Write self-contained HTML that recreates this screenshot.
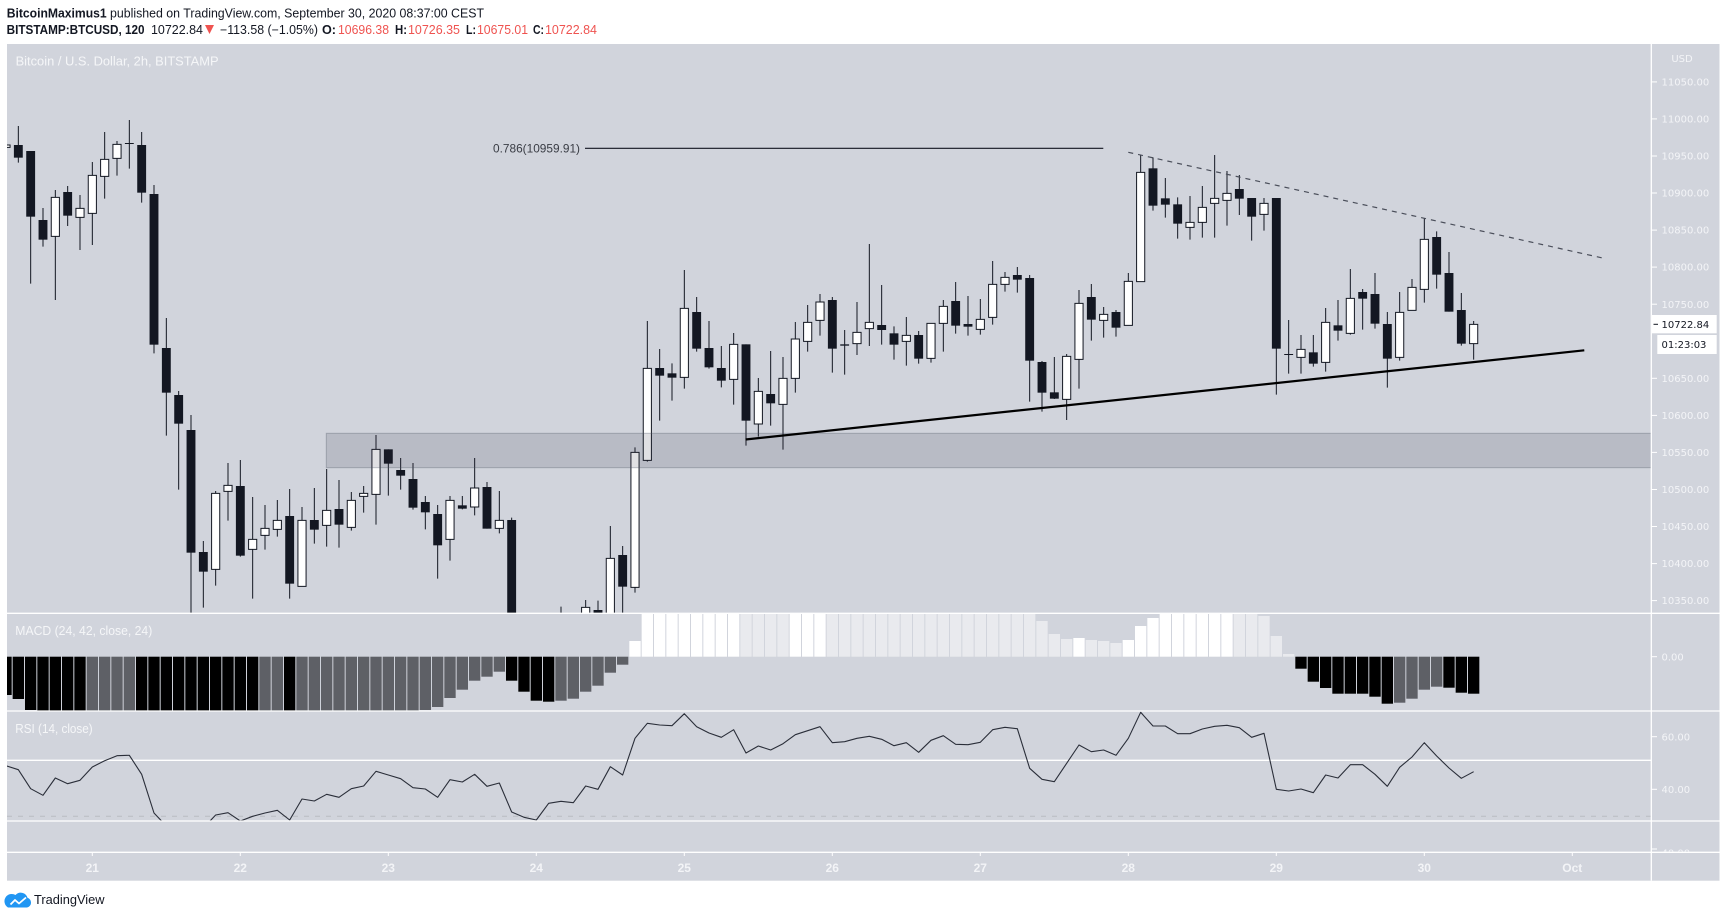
<!DOCTYPE html>
<html><head><meta charset="utf-8"><style>
html,body{margin:0;padding:0;background:#fff;}
svg{display:block;}
.t{font-family:"Liberation Sans",sans-serif;}
.ax{font-family:"DejaVu Sans","Liberation Sans",sans-serif;font-size:10px;fill:#f3f4f7;}
.dt{font-family:"Liberation Sans",sans-serif;font-size:12px;font-weight:bold;fill:#f3f4f7;text-anchor:middle;}
</style></head><body>
<svg width="1724" height="918" viewBox="0 0 1724 918" xmlns="http://www.w3.org/2000/svg">
<defs>
<clipPath id="cMain"><rect x="7" y="44" width="1644.3" height="569.3"/></clipPath>
<clipPath id="cMacd"><rect x="7" y="613.8" width="1644.3" height="97"/></clipPath>
<clipPath id="cRsi"><rect x="7" y="711.5" width="1644.3" height="109.3"/></clipPath>
<clipPath id="cSmall"><rect x="1652" y="821.5" width="70" height="30.5"/></clipPath>
</defs>
<rect x="0" y="0" width="1724" height="918" fill="#fff"/>
<!-- header -->
<text class="t" x="6.7" y="17.5" font-size="12.5" font-weight="bold" fill="#131722" textLength="100" lengthAdjust="spacingAndGlyphs">BitcoinMaximus1</text>
<text class="t" x="110" y="17.5" font-size="12.5" fill="#131722" textLength="374" lengthAdjust="spacingAndGlyphs">published on TradingView.com, September 30, 2020 08:37:00 CEST</text>
<text class="t" x="6.6" y="34" font-size="12.5" font-weight="bold" fill="#131722" textLength="138" lengthAdjust="spacingAndGlyphs">BITSTAMP:BTCUSD, 120</text>
<text class="t" x="151" y="34" font-size="12.5" fill="#131722" textLength="52" lengthAdjust="spacingAndGlyphs">10722.84</text>
<polygon points="205,25 214,25 209.5,34" fill="#ef5350"/>
<text class="t" x="220" y="34" font-size="12.5" fill="#131722" textLength="98" lengthAdjust="spacingAndGlyphs">−113.58 (−1.05%)</text>
<text class="t" x="322" y="34" font-size="12.5" font-weight="bold" fill="#131722" textLength="14" lengthAdjust="spacingAndGlyphs">O:</text>
<text class="t" x="338" y="34" font-size="12.5" fill="#ef5350" textLength="51" lengthAdjust="spacingAndGlyphs">10696.38</text>
<text class="t" x="395" y="34" font-size="12.5" font-weight="bold" fill="#131722" textLength="12" lengthAdjust="spacingAndGlyphs">H:</text>
<text class="t" x="408" y="34" font-size="12.5" fill="#ef5350" textLength="52" lengthAdjust="spacingAndGlyphs">10726.35</text>
<text class="t" x="466" y="34" font-size="12.5" font-weight="bold" fill="#131722" textLength="10" lengthAdjust="spacingAndGlyphs">L:</text>
<text class="t" x="477" y="34" font-size="12.5" fill="#ef5350" textLength="51" lengthAdjust="spacingAndGlyphs">10675.01</text>
<text class="t" x="533" y="34" font-size="12.5" font-weight="bold" fill="#131722" textLength="11" lengthAdjust="spacingAndGlyphs">C:</text>
<text class="t" x="545" y="34" font-size="12.5" fill="#ef5350" textLength="52" lengthAdjust="spacingAndGlyphs">10722.84</text>

<!-- chart background -->
<rect x="7" y="44" width="1712.5" height="836.7" fill="#d1d4dc"/>

<!-- main pane -->
<g clip-path="url(#cMain)">
<g transform="translate(18.333 100) scale(12.3333 0.333333)">
<path fill="none" stroke="#131722" stroke-width="1" vector-effect="non-scaling-stroke" d="M0 78V188M1 153V551M2 324V440M3 270V600M4 258V378M5 285V450M6 186V435M7 96V296M8 123V227M9 60V206M10 96V308M11 255V760M12 654V1007M13 873V1169M14 945V1600M15 1323V1523M16 1173V1457M17 1089V1262M18 1080V1370M19 1191V1496M20 1215V1349M21 1200V1310M22 1167V1496M23 1221V1459M24 1164V1331M25 1107V1340M26 1140V1343M27 1176V1292M28 1158V1238M29 1005V1274M30 1048V1187M31 1074V1169M32 1089V1229M33 1188V1288M34 1215V1436M35 1188V1382M36 1188V1228M37 1074V1246M38 1146V1286M39 1173V1300M40 1253V1650M44 1520V1650M46 1500V1650M47 1502V1650M48 1278V1650M49 1338V1540M50 1042V1478M51 663V1085M52 747V962M53 790V902M54 510V866M55 591V755M56 663V806M57 738V862M58 699V914M59 733V1037M60 834V1010M61 753V977M62 771V1049M63 666V878M64 615V755M65 582V707M66 591V818M67 690V824M68 606V765M69 432V738M70 555V734M71 679V779M72 651V797M73 693V791M74 669V788M75 600V755M76 546V701M77 588V707M78 597V704M79 483V674M80 516V575M81 501V578M82 525V905M83 783V935M84 771V897M85 762V960M86 570V866M87 552V722M88 621V713M89 630V710M90 519V676M91 166V545M92 172V332M93 234V353M94 292V416M95 288V419M96 258V413M97 165V413M98 213V377M99 225V345M100 294V422M101 294V392M102 294V884M103 660V821M104 705V821M105 705V800M106 624V815M107 600V722M108 507V704M109 567V689M110 519V686M111 636V863M112 576V782M113 537V631M114 354V608M115 394V566M116 456V635M117 579V737M118 663V779"/>
<g fill="#131722">
<rect x="-0.36" y="135" width="0.72" height="38"/>
<rect x="0.64" y="153" width="0.72" height="197"/>
<rect x="1.64" y="360" width="0.72" height="59"/>
<rect x="3.64" y="276" width="0.72" height="71"/>
<rect x="8.64" y="129" width="0.72" height="3"/>
<rect x="9.64" y="135" width="0.72" height="143"/>
<rect x="10.64" y="282" width="0.72" height="452"/>
<rect x="11.64" y="744" width="0.72" height="134"/>
<rect x="12.64" y="885" width="0.72" height="86"/>
<rect x="13.64" y="990" width="0.72" height="368"/>
<rect x="14.64" y="1356" width="0.72" height="59"/>
<rect x="17.64" y="1158" width="0.72" height="209"/>
<rect x="21.64" y="1248" width="0.72" height="203"/>
<rect x="23.64" y="1260" width="0.72" height="29"/>
<rect x="25.64" y="1227" width="0.72" height="47"/>
<rect x="29.64" y="1048" width="0.72" height="43"/>
<rect x="30.64" y="1110" width="0.72" height="17"/>
<rect x="31.64" y="1137" width="0.72" height="86"/>
<rect x="32.64" y="1206" width="0.72" height="31"/>
<rect x="33.64" y="1242" width="0.72" height="94"/>
<rect x="35.64" y="1216" width="0.72" height="10"/>
<rect x="37.64" y="1161" width="0.72" height="125"/>
<rect x="39.64" y="1260" width="0.72" height="400"/>
<rect x="46.64" y="1530" width="0.72" height="120"/>
<rect x="48.64" y="1365" width="0.72" height="95"/>
<rect x="51.64" y="804" width="0.72" height="23"/>
<rect x="52.64" y="820" width="0.72" height="13"/>
<rect x="54.64" y="636" width="0.72" height="110"/>
<rect x="55.64" y="744" width="0.72" height="58"/>
<rect x="56.64" y="804" width="0.72" height="38"/>
<rect x="58.64" y="733" width="0.72" height="229"/>
<rect x="60.64" y="882" width="0.72" height="28"/>
<rect x="65.64" y="600" width="0.72" height="146"/>
<rect x="66.64" y="733" width="0.72" height="4"/>
<rect x="69.64" y="675" width="0.72" height="15"/>
<rect x="70.64" y="700" width="0.72" height="34"/>
<rect x="72.64" y="705" width="0.72" height="71"/>
<rect x="75.64" y="603" width="0.72" height="74"/>
<rect x="76.64" y="672" width="0.72" height="8"/>
<rect x="80.64" y="525" width="0.72" height="14"/>
<rect x="81.64" y="534" width="0.72" height="248"/>
<rect x="82.64" y="786" width="0.72" height="92"/>
<rect x="83.64" y="877" width="0.72" height="19"/>
<rect x="86.64" y="591" width="0.72" height="68"/>
<rect x="88.64" y="636" width="0.72" height="47"/>
<rect x="91.64" y="205" width="0.72" height="112"/>
<rect x="92.64" y="295" width="0.72" height="19"/>
<rect x="93.64" y="313" width="0.72" height="58"/>
<rect x="98.64" y="267" width="0.72" height="29"/>
<rect x="99.64" y="294" width="0.72" height="56"/>
<rect x="101.64" y="294" width="0.72" height="452"/>
<rect x="102.64" y="762" width="0.72" height="3"/>
<rect x="104.64" y="757" width="0.72" height="34"/>
<rect x="106.64" y="676" width="0.72" height="16"/>
<rect x="108.64" y="576" width="0.72" height="20"/>
<rect x="109.64" y="582" width="0.72" height="89"/>
<rect x="110.64" y="672" width="0.72" height="104"/>
<rect x="114.64" y="411" width="0.72" height="113"/>
<rect x="115.64" y="519" width="0.72" height="116"/>
<rect x="116.64" y="630" width="0.72" height="101"/>
</g>
<g fill="#ffffff" stroke="#131722" stroke-width="1" vector-effect="non-scaling-stroke">
<rect vector-effect="non-scaling-stroke" x="-1.33" y="135" width="0.66" height="7"/>
<rect vector-effect="non-scaling-stroke" x="2.67" y="292" width="0.66" height="117"/>
<rect vector-effect="non-scaling-stroke" x="4.67" y="325" width="0.66" height="27"/>
<rect vector-effect="non-scaling-stroke" x="5.67" y="226" width="0.66" height="114"/>
<rect vector-effect="non-scaling-stroke" x="6.67" y="178" width="0.66" height="51"/>
<rect vector-effect="non-scaling-stroke" x="7.67" y="133" width="0.66" height="42"/>
<rect vector-effect="non-scaling-stroke" x="15.67" y="1180" width="0.66" height="228"/>
<rect vector-effect="non-scaling-stroke" x="16.67" y="1156" width="0.66" height="18"/>
<rect vector-effect="non-scaling-stroke" x="18.67" y="1318" width="0.66" height="30"/>
<rect vector-effect="non-scaling-stroke" x="19.67" y="1285" width="0.66" height="21"/>
<rect vector-effect="non-scaling-stroke" x="20.67" y="1261" width="0.66" height="27"/>
<rect vector-effect="non-scaling-stroke" x="22.67" y="1261" width="0.66" height="198"/>
<rect vector-effect="non-scaling-stroke" x="24.67" y="1231" width="0.66" height="45"/>
<rect vector-effect="non-scaling-stroke" x="26.67" y="1201" width="0.66" height="81"/>
<rect vector-effect="non-scaling-stroke" x="27.67" y="1180" width="0.66" height="9"/>
<rect vector-effect="non-scaling-stroke" x="28.67" y="1048" width="0.66" height="135"/>
<rect vector-effect="non-scaling-stroke" x="34.67" y="1201" width="0.66" height="117"/>
<rect vector-effect="non-scaling-stroke" x="36.67" y="1164" width="0.66" height="57"/>
<rect vector-effect="non-scaling-stroke" x="38.67" y="1261" width="0.66" height="24"/>
<rect vector-effect="non-scaling-stroke" x="43.67" y="1560" width="0.66" height="90"/>
<rect vector-effect="non-scaling-stroke" x="45.67" y="1522" width="0.66" height="128"/>
<rect vector-effect="non-scaling-stroke" x="47.67" y="1375" width="0.66" height="275"/>
<rect vector-effect="non-scaling-stroke" x="49.67" y="1057" width="0.66" height="405"/>
<rect vector-effect="non-scaling-stroke" x="50.67" y="805" width="0.66" height="276"/>
<rect vector-effect="non-scaling-stroke" x="53.67" y="625" width="0.66" height="207"/>
<rect vector-effect="non-scaling-stroke" x="57.67" y="733" width="0.66" height="105"/>
<rect vector-effect="non-scaling-stroke" x="59.67" y="874" width="0.66" height="98"/>
<rect vector-effect="non-scaling-stroke" x="61.67" y="835" width="0.66" height="78"/>
<rect vector-effect="non-scaling-stroke" x="62.67" y="717" width="0.66" height="118"/>
<rect vector-effect="non-scaling-stroke" x="63.67" y="667" width="0.66" height="57"/>
<rect vector-effect="non-scaling-stroke" x="64.67" y="606" width="0.66" height="55"/>
<rect vector-effect="non-scaling-stroke" x="67.67" y="697" width="0.66" height="34"/>
<rect vector-effect="non-scaling-stroke" x="68.67" y="667" width="0.66" height="19"/>
<rect vector-effect="non-scaling-stroke" x="71.67" y="706" width="0.66" height="18"/>
<rect vector-effect="non-scaling-stroke" x="73.67" y="670" width="0.66" height="105"/>
<rect vector-effect="non-scaling-stroke" x="74.67" y="619" width="0.66" height="51"/>
<rect vector-effect="non-scaling-stroke" x="77.67" y="658" width="0.66" height="30"/>
<rect vector-effect="non-scaling-stroke" x="78.67" y="553" width="0.66" height="99"/>
<rect vector-effect="non-scaling-stroke" x="79.67" y="532" width="0.66" height="21"/>
<rect vector-effect="non-scaling-stroke" x="84.67" y="769" width="0.66" height="129"/>
<rect vector-effect="non-scaling-stroke" x="85.67" y="610" width="0.66" height="168"/>
<rect vector-effect="non-scaling-stroke" x="87.67" y="643" width="0.66" height="18"/>
<rect vector-effect="non-scaling-stroke" x="89.67" y="544" width="0.66" height="132"/>
<rect vector-effect="non-scaling-stroke" x="90.67" y="217" width="0.66" height="328"/>
<rect vector-effect="non-scaling-stroke" x="94.67" y="367" width="0.66" height="15"/>
<rect vector-effect="non-scaling-stroke" x="95.67" y="322" width="0.66" height="45"/>
<rect vector-effect="non-scaling-stroke" x="96.67" y="295" width="0.66" height="15"/>
<rect vector-effect="non-scaling-stroke" x="97.67" y="280" width="0.66" height="21"/>
<rect vector-effect="non-scaling-stroke" x="100.67" y="310" width="0.66" height="33"/>
<rect vector-effect="non-scaling-stroke" x="103.67" y="748" width="0.66" height="24"/>
<rect vector-effect="non-scaling-stroke" x="105.67" y="667" width="0.66" height="120"/>
<rect vector-effect="non-scaling-stroke" x="107.67" y="595" width="0.66" height="105"/>
<rect vector-effect="non-scaling-stroke" x="111.67" y="637" width="0.66" height="135"/>
<rect vector-effect="non-scaling-stroke" x="112.67" y="562" width="0.66" height="69"/>
<rect vector-effect="non-scaling-stroke" x="113.67" y="418" width="0.66" height="150"/>
<rect vector-effect="non-scaling-stroke" x="117.67" y="673" width="0.66" height="58"/>
</g>
</g>
<!-- support/resistance zone -->
<rect x="326.3" y="433.3" width="1325" height="34.4" fill="rgba(45,50,65,0.15)" stroke="rgba(80,85,100,0.35)" stroke-width="1"/>
<!-- fib line -->
<line x1="585" y1="148.3" x2="1103.3" y2="148.3" stroke="#131722" stroke-width="1.2"/>
<text class="t" x="580" y="152.5" font-size="12" fill="#3a3d45" text-anchor="end" textLength="87" lengthAdjust="spacingAndGlyphs">0.786(10959.91)</text>
<!-- dashed resistance -->
<line x1="1128.3" y1="152.3" x2="1605.7" y2="258.7" stroke="#4a4e5a" stroke-width="1.2" stroke-dasharray="5 5"/>
<!-- support line -->
<line x1="745.5" y1="439.5" x2="1584.3" y2="350.3" stroke="#000" stroke-width="2.2"/>
</g>
<text class="t" x="15.6" y="65.5" font-size="12.5" fill="#f5f6f8" textLength="203" lengthAdjust="spacingAndGlyphs">Bitcoin / U.S. Dollar, 2h, BITSTAMP</text>

<!-- MACD -->
<g clip-path="url(#cMacd)">
<g transform="translate(18.333 0) scale(12.3333 1)">
<g fill="#000000">
<rect x="-1.46" y="656.7" width="0.92" height="38.3"/>
<rect x="-0.46" y="656.7" width="0.92" height="42.3"/>
<rect x="0.54" y="656.7" width="0.92" height="53.3"/>
<rect x="1.54" y="656.7" width="0.92" height="56"/>
<rect x="2.54" y="656.7" width="0.92" height="56"/>
<rect x="3.54" y="656.7" width="0.92" height="56"/>
<rect x="4.54" y="656.7" width="0.92" height="56"/>
<rect x="9.54" y="656.7" width="0.92" height="56"/>
<rect x="10.54" y="656.7" width="0.92" height="56"/>
<rect x="11.54" y="656.7" width="0.92" height="56"/>
<rect x="12.54" y="656.7" width="0.92" height="56"/>
<rect x="13.54" y="656.7" width="0.92" height="56"/>
<rect x="14.54" y="656.7" width="0.92" height="56"/>
<rect x="15.54" y="656.7" width="0.92" height="56"/>
<rect x="16.54" y="656.7" width="0.92" height="56"/>
<rect x="17.54" y="656.7" width="0.92" height="56"/>
<rect x="18.54" y="656.7" width="0.92" height="56"/>
<rect x="21.54" y="656.7" width="0.92" height="56"/>
<rect x="39.54" y="656.7" width="0.92" height="24"/>
<rect x="40.54" y="656.7" width="0.92" height="35"/>
<rect x="41.54" y="656.7" width="0.92" height="44"/>
<rect x="42.54" y="656.7" width="0.92" height="45"/>
<rect x="103.54" y="656.7" width="0.92" height="12"/>
<rect x="104.54" y="656.7" width="0.92" height="25"/>
<rect x="105.54" y="656.7" width="0.92" height="31.3"/>
<rect x="106.54" y="656.7" width="0.92" height="37"/>
<rect x="107.54" y="656.7" width="0.92" height="37"/>
<rect x="108.54" y="656.7" width="0.92" height="37"/>
<rect x="109.54" y="656.7" width="0.92" height="40"/>
<rect x="110.54" y="656.7" width="0.92" height="47"/>
<rect x="115.54" y="656.7" width="0.92" height="31"/>
<rect x="116.54" y="656.7" width="0.92" height="36"/>
<rect x="117.54" y="656.7" width="0.92" height="37"/>
</g>
<g fill="#5e6066">
<rect x="5.54" y="656.7" width="0.92" height="56"/>
<rect x="6.54" y="656.7" width="0.92" height="56"/>
<rect x="7.54" y="656.7" width="0.92" height="56"/>
<rect x="8.54" y="656.7" width="0.92" height="56"/>
<rect x="19.54" y="656.7" width="0.92" height="56"/>
<rect x="20.54" y="656.7" width="0.92" height="56"/>
<rect x="22.54" y="656.7" width="0.92" height="56"/>
<rect x="23.54" y="656.7" width="0.92" height="56"/>
<rect x="24.54" y="656.7" width="0.92" height="56"/>
<rect x="25.54" y="656.7" width="0.92" height="56"/>
<rect x="26.54" y="656.7" width="0.92" height="56"/>
<rect x="27.54" y="656.7" width="0.92" height="56"/>
<rect x="28.54" y="656.7" width="0.92" height="56"/>
<rect x="29.54" y="656.7" width="0.92" height="56"/>
<rect x="30.54" y="656.7" width="0.92" height="56"/>
<rect x="31.54" y="656.7" width="0.92" height="56"/>
<rect x="32.54" y="656.7" width="0.92" height="53.3"/>
<rect x="33.54" y="656.7" width="0.92" height="50.3"/>
<rect x="34.54" y="656.7" width="0.92" height="41.3"/>
<rect x="35.54" y="656.7" width="0.92" height="33"/>
<rect x="36.54" y="656.7" width="0.92" height="24"/>
<rect x="37.54" y="656.7" width="0.92" height="20"/>
<rect x="38.54" y="656.7" width="0.92" height="15"/>
<rect x="43.54" y="656.7" width="0.92" height="44"/>
<rect x="44.54" y="656.7" width="0.92" height="42"/>
<rect x="45.54" y="656.7" width="0.92" height="35"/>
<rect x="46.54" y="656.7" width="0.92" height="29"/>
<rect x="47.54" y="656.7" width="0.92" height="16"/>
<rect x="48.54" y="656.7" width="0.92" height="8"/>
<rect x="111.54" y="656.7" width="0.92" height="46"/>
<rect x="112.54" y="656.7" width="0.92" height="42"/>
<rect x="113.54" y="656.7" width="0.92" height="33"/>
<rect x="114.54" y="656.7" width="0.92" height="30"/>
</g>
<g fill="#ffffff">
<rect x="49.54" y="641" width="0.92" height="15.7"/>
<rect x="50.54" y="612" width="0.92" height="44.7"/>
<rect x="51.54" y="612" width="0.92" height="44.7"/>
<rect x="52.54" y="612" width="0.92" height="44.7"/>
<rect x="53.54" y="612" width="0.92" height="44.7"/>
<rect x="54.54" y="612" width="0.92" height="44.7"/>
<rect x="55.54" y="612" width="0.92" height="44.7"/>
<rect x="56.54" y="612" width="0.92" height="44.7"/>
<rect x="57.54" y="612" width="0.92" height="44.7"/>
<rect x="62.54" y="612" width="0.92" height="44.7"/>
<rect x="63.54" y="612" width="0.92" height="44.7"/>
<rect x="64.54" y="612" width="0.92" height="44.7"/>
<rect x="85.54" y="638" width="0.92" height="18.7"/>
<rect x="89.54" y="640" width="0.92" height="16.7"/>
<rect x="90.54" y="626" width="0.92" height="30.7"/>
<rect x="91.54" y="618" width="0.92" height="38.7"/>
<rect x="92.54" y="612" width="0.92" height="44.7"/>
<rect x="93.54" y="612" width="0.92" height="44.7"/>
<rect x="94.54" y="612" width="0.92" height="44.7"/>
<rect x="95.54" y="612" width="0.92" height="44.7"/>
<rect x="96.54" y="612" width="0.92" height="44.7"/>
<rect x="97.54" y="612" width="0.92" height="44.7"/>
</g>
<g fill="#e9eaee">
<rect x="58.54" y="612" width="0.92" height="44.7"/>
<rect x="59.54" y="612" width="0.92" height="44.7"/>
<rect x="60.54" y="612" width="0.92" height="44.7"/>
<rect x="61.54" y="612" width="0.92" height="44.7"/>
<rect x="65.54" y="612" width="0.92" height="44.7"/>
<rect x="66.54" y="612" width="0.92" height="44.7"/>
<rect x="67.54" y="612" width="0.92" height="44.7"/>
<rect x="68.54" y="612" width="0.92" height="44.7"/>
<rect x="69.54" y="612" width="0.92" height="44.7"/>
<rect x="70.54" y="612" width="0.92" height="44.7"/>
<rect x="71.54" y="612" width="0.92" height="44.7"/>
<rect x="72.54" y="612" width="0.92" height="44.7"/>
<rect x="73.54" y="612" width="0.92" height="44.7"/>
<rect x="74.54" y="612" width="0.92" height="44.7"/>
<rect x="75.54" y="612" width="0.92" height="44.7"/>
<rect x="76.54" y="612" width="0.92" height="44.7"/>
<rect x="77.54" y="612" width="0.92" height="44.7"/>
<rect x="78.54" y="612" width="0.92" height="44.7"/>
<rect x="79.54" y="612" width="0.92" height="44.7"/>
<rect x="80.54" y="612" width="0.92" height="44.7"/>
<rect x="81.54" y="612" width="0.92" height="44.7"/>
<rect x="82.54" y="621" width="0.92" height="35.7"/>
<rect x="83.54" y="634" width="0.92" height="22.7"/>
<rect x="84.54" y="639" width="0.92" height="17.7"/>
<rect x="86.54" y="640" width="0.92" height="16.7"/>
<rect x="87.54" y="641" width="0.92" height="15.7"/>
<rect x="88.54" y="643" width="0.92" height="13.7"/>
<rect x="98.54" y="612" width="0.92" height="44.7"/>
<rect x="99.54" y="612" width="0.92" height="44.7"/>
<rect x="100.54" y="616" width="0.92" height="40.7"/>
<rect x="101.54" y="636" width="0.92" height="20.7"/>
<rect x="102.54" y="654" width="0.92" height="2.7"/>
</g>
</g>
</g>
<text class="t" x="15.3" y="635" font-size="12.5" fill="#f5f6f8" textLength="137" lengthAdjust="spacingAndGlyphs">MACD (24, 42, close, 24)</text>

<!-- RSI -->
<line x1="7" y1="760.3" x2="1651.3" y2="760.3" stroke="#ffffff" stroke-width="1.3"/>
<line x1="7" y1="816.3" x2="1651.3" y2="816.3" stroke="#b9bbc2" stroke-width="1" stroke-dasharray="5 6"/>
<g clip-path="url(#cRsi)">
<g transform="translate(18.333 0) scale(12.3333 1)">
<polyline fill="none" stroke="#2a2e39" stroke-width="1.1" vector-effect="non-scaling-stroke" stroke-linejoin="round" points="-1,765.7 0,769.7 1,788.7 2,795.3 3,778 4,783.7 5,780.3 6,767 7,760.7 8,755.7 9,755.3 10,774.3 11,813 12,826 13,832 14,836 15,828 16,815 17,812.7 18,821 19,816.3 20,813 21,810.3 22,820 23,799 24,801 25,794.3 26,797.3 27,788.7 28,786 29,771.3 30,775 31,778.7 32,787.7 33,789 34,797.3 35,779.7 36,782 37,774.3 38,786.3 39,783 40,812 41,817.3 42,820 43,803.3 44,801.3 45,802.7 46,786 47,789.3 48,766.7 49,775 50,738.3 51,723.3 52,725 53,725.7 54,713.7 55,726.7 56,733 57,737.3 58,729.7 59,753 60,746 61,750 62,743.7 63,734.7 64,730.7 65,726.7 66,742.7 67,741.7 68,738.3 69,736.3 70,739.3 71,745.7 72,742.7 73,752.3 74,740.3 75,735.7 76,744.3 77,744.7 78,742.3 79,729.7 80,727.3 81,728.7 82,768.3 83,779.3 84,781.7 85,763.3 86,745 87,751.7 88,750 89,755.3 90,738.3 91,712.3 92,726 93,726 94,733.7 95,733.7 96,729 97,726.3 98,725.3 99,727.7 100,737.3 101,733.3 102,789.3 103,791 104,789 105,792.7 106,775 107,778 108,764.7 109,764.7 110,774.3 111,786.3 112,767.3 113,757 114,742.7 115,756 116,768 117,778.3 118,771.7"/>
</g>
</g>
<text class="t" x="15.3" y="733" font-size="12.5" fill="#f5f6f8" textLength="77.4" lengthAdjust="spacingAndGlyphs">RSI (14, close)</text>

<!-- separators -->
<g stroke="#ffffff" stroke-width="1.3">
<line x1="7" y1="613.3" x2="1719.5" y2="613.3"/>
<line x1="7" y1="711" x2="1719.5" y2="711"/>
<line x1="7" y1="821" x2="1719.5" y2="821"/>
<line x1="7" y1="852.3" x2="1719.5" y2="852.3"/>
<line x1="1651.3" y1="44" x2="1651.3" y2="880.7"/>
</g>

<!-- price axis ticks -->
<g stroke="#ffffff" stroke-width="1">
<line x1="1651.3" y1="81.9" x2="1657" y2="81.9"/>
<line x1="1651.3" y1="118.9" x2="1657" y2="118.9"/>
<line x1="1651.3" y1="156" x2="1657" y2="156"/>
<line x1="1651.3" y1="193" x2="1657" y2="193"/>
<line x1="1651.3" y1="230.1" x2="1657" y2="230.1"/>
<line x1="1651.3" y1="267.1" x2="1657" y2="267.1"/>
<line x1="1651.3" y1="304.2" x2="1657" y2="304.2"/>
<line x1="1651.3" y1="378.3" x2="1657" y2="378.3"/>
<line x1="1651.3" y1="415.4" x2="1657" y2="415.4"/>
<line x1="1651.3" y1="452.4" x2="1657" y2="452.4"/>
<line x1="1651.3" y1="489.5" x2="1657" y2="489.5"/>
<line x1="1651.3" y1="526.5" x2="1657" y2="526.5"/>
<line x1="1651.3" y1="563.6" x2="1657" y2="563.6"/>
<line x1="1651.3" y1="600.6" x2="1657" y2="600.6"/>
<line x1="1651.3" y1="656.7" x2="1657" y2="656.7"/>
<line x1="1651.3" y1="736.7" x2="1657" y2="736.7"/>
<line x1="1651.3" y1="789.3" x2="1657" y2="789.3"/>
<line x1="1651.3" y1="849" x2="1657" y2="849"/>
</g>
<text class="ax" x="1682" y="62" font-size="9.5" text-anchor="middle">USD</text>
<text class="ax" x="1661.5" y="85.5">11050.00</text>
<text class="ax" x="1661.5" y="122.5">11000.00</text>
<text class="ax" x="1661.5" y="159.6">10950.00</text>
<text class="ax" x="1661.5" y="196.6">10900.00</text>
<text class="ax" x="1661.5" y="233.7">10850.00</text>
<text class="ax" x="1661.5" y="270.7">10800.00</text>
<text class="ax" x="1661.5" y="307.8">10750.00</text>
<text class="ax" x="1661.5" y="381.9">10650.00</text>
<text class="ax" x="1661.5" y="419">10600.00</text>
<text class="ax" x="1661.5" y="456">10550.00</text>
<text class="ax" x="1661.5" y="493.1">10500.00</text>
<text class="ax" x="1661.5" y="530.1">10450.00</text>
<text class="ax" x="1661.5" y="567.2">10400.00</text>
<text class="ax" x="1661.5" y="604.2">10350.00</text>
<text class="ax" x="1661.5" y="660.3">0.00</text>
<text class="ax" x="1661.5" y="740.3">60.00</text>
<text class="ax" x="1661.5" y="792.9">40.00</text>
<g clip-path="url(#cSmall)"><text class="ax" x="1661.5" y="856.5">40.00</text></g>
<!-- current price tag -->
<rect x="1652" y="315" width="64.7" height="18.3" fill="#ffffff"/>
<line x1="1653.5" y1="324.3" x2="1658" y2="324.3" stroke="#131722" stroke-width="1"/>
<text x="1661.5" y="328" font-family="DejaVu Sans, sans-serif" font-size="10" fill="#131722">10722.84</text>
<rect x="1657.3" y="335" width="59.4" height="19" fill="#ffffff"/>
<text x="1661.5" y="348" font-family="DejaVu Sans, sans-serif" font-size="10" fill="#131722">01:23:03</text>

<!-- time axis -->
<g stroke="#ffffff" stroke-width="1">
<line x1="92.3" y1="852.3" x2="92.3" y2="856"/>
<line x1="240.3" y1="852.3" x2="240.3" y2="856"/>
<line x1="388.3" y1="852.3" x2="388.3" y2="856"/>
<line x1="536.3" y1="852.3" x2="536.3" y2="856"/>
<line x1="684.3" y1="852.3" x2="684.3" y2="856"/>
<line x1="832.3" y1="852.3" x2="832.3" y2="856"/>
<line x1="980.3" y1="852.3" x2="980.3" y2="856"/>
<line x1="1128.3" y1="852.3" x2="1128.3" y2="856"/>
<line x1="1276.3" y1="852.3" x2="1276.3" y2="856"/>
<line x1="1424.3" y1="852.3" x2="1424.3" y2="856"/>
<line x1="1572.3" y1="852.3" x2="1572.3" y2="856"/>
</g>
<text class="dt" x="92.3" y="872">21</text>
<text class="dt" x="240.3" y="872">22</text>
<text class="dt" x="388.3" y="872">23</text>
<text class="dt" x="536.3" y="872">24</text>
<text class="dt" x="684.3" y="872">25</text>
<text class="dt" x="832.3" y="872">26</text>
<text class="dt" x="980.3" y="872">27</text>
<text class="dt" x="1128.3" y="872">28</text>
<text class="dt" x="1276.3" y="872">29</text>
<text class="dt" x="1424.3" y="872">30</text>
<text class="dt" x="1572.3" y="872">Oct</text>

<!-- logo -->
<path d="M8 907.5 H27 A5 5 0 0 0 27.5 897.8 A7 7 0 0 0 15.5 895 A5.5 5.5 0 0 0 8 907.5 Z" fill="#2196f3"/>
<polyline points="10.5,904.5 15,900 19,903.5 26,897.5" fill="none" stroke="#ffffff" stroke-width="1.8" stroke-linejoin="round"/>
<text class="t" x="34" y="904" font-size="13" fill="#131722" textLength="70.5" lengthAdjust="spacingAndGlyphs">TradingView</text>
</svg>
</body></html>
